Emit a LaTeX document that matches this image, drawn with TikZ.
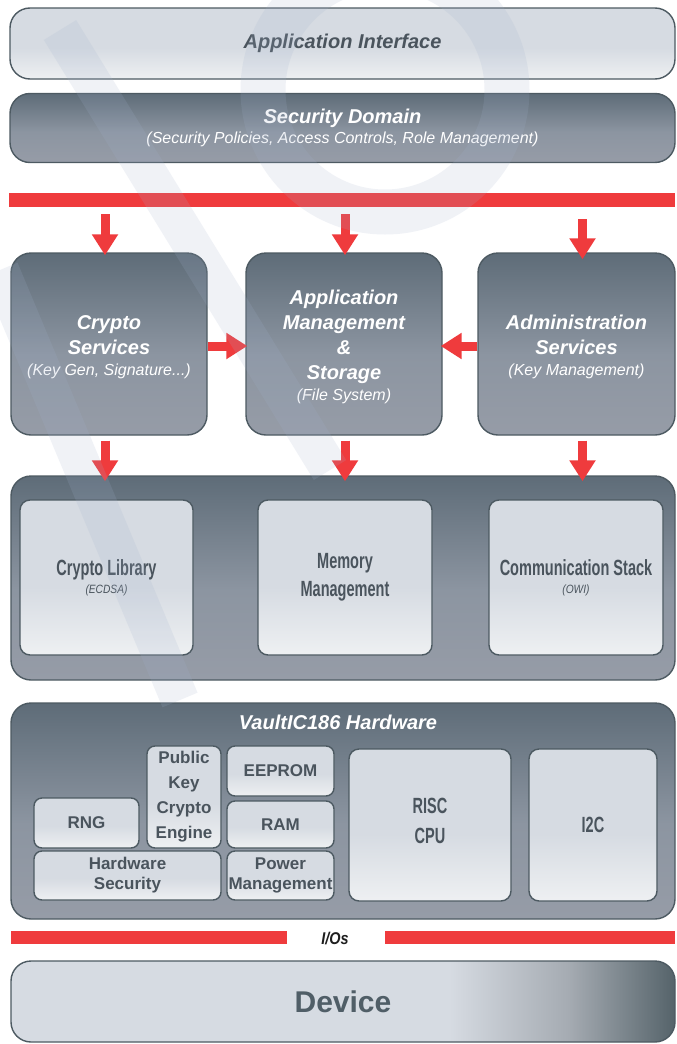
\documentclass[tikz,border=0pt]{standalone}
\usepackage{fontspec}
\setmainfont{Liberation Sans}
\newfontfamily\narrowfont[FakeStretch=0.66]{Liberation Sans}
\newfontfamily\semifont[FakeStretch=0.85]{Liberation Sans}
\usetikzlibrary{arrows.meta,calc}

\definecolor{redbar}{HTML}{EF3B3D}
\definecolor{edge}{HTML}{4D5A62}
\definecolor{dkT}{HTML}{5E6C78}
\definecolor{dkM}{HTML}{8C95A1}
\definecolor{dkB}{HTML}{969CA7}
\definecolor{ltT}{HTML}{D6DBE2}
\definecolor{ltB}{HTML}{EEF0F2}
\definecolor{devM}{HTML}{A5ABB2}
\definecolor{devR}{HTML}{55636A}
\definecolor{txtdark}{HTML}{4A545D}
\definecolor{devtxt}{HTML}{505E67}
\definecolor{wmcol}{RGB}{162,178,205}

\pgfdeclareverticalshading{darkshade}{100bp}{color(0bp)=(dkB); color(25bp)=(dkB); color(47bp)=(dkM); color(75bp)=(dkT); color(100bp)=(dkT)}
\pgfdeclareverticalshading{lightshade}{100bp}{color(0bp)=(ltB); color(25bp)=(ltB); color(47bp)=(ltT); color(75bp)=(ltT); color(100bp)=(ltT)}
\pgfdeclarehorizontalshading{devshade}{100bp}{color(0bp)=(ltT); color(25bp)=(ltT); color(58bp)=(ltT); color(67bp)=(devM); color(75bp)=(devR); color(100bp)=(devR)}

\newcommand\ttlfont{\fontsize{20}{25}\selectfont\bfseries\itshape}
\newcommand\subitfont{\fontsize{16}{20}\selectfont\mdseries\itshape}
\newcommand\topgap{\rule{0pt}{15pt}\\[-19pt]}

\tikzset{
  box/.style={inner sep=0pt, line width=1.4pt, draw=edge, align=center},
  darkbox/.style={box, shading=darkshade, text=white, rounded corners=20pt},
  lightbox/.style={box, shading=lightshade, text=txtdark, rounded corners=10pt},
  hwbox/.style={lightbox, rounded corners=8pt, font=\fontsize{17}{20}\selectfont\bfseries},
  libtext/.style={font=\narrowfont\bfseries\fontsize{22}{28}\selectfont},
  redarrow/.style={draw=redbar, line width=9pt, -{Triangle[width=25pt,length=21pt]}},
  redband/.style={fill=redbar, inner sep=0pt},
  wm/.style={draw=wmcol, draw opacity=0.16},
}

\begin{document}
\begin{tikzpicture}[x=1pt,y=-1pt]
\fill[white] (0,0) rectangle (677,1044);
\useasboundingbox (0,0) rectangle (677,1044);

% top layers
\node[lightbox, rounded corners=20pt, minimum width=665pt, minimum height=71pt, font=\ttlfont] (appif) at (342.5,43.5) {Application Interface};
\node[darkbox, minimum width=665pt, minimum height=69pt, font=\fontsize{16}{20}\selectfont] (secdom) at (342.5,128)
  {{\ttlfont Security Domain}\\{\subitfont (Security Policies, Access Controls, Role Management)}};

\node[redband, minimum width=666pt, minimum height=14pt] (bar) at (342,200) {};

% services
\node[darkbox, minimum width=196pt, minimum height=182pt, font=\ttlfont] (crypto) at (109,344)
  {\topgap Crypto\\Services\\[-4pt]{\subitfont (Key Gen, Signature...)}};
\node[darkbox, minimum width=196pt, minimum height=182pt, font=\ttlfont] (appmgmt) at (344,344)
  {\topgap Application\\Management\\\&\\Storage\\[-4pt]{\subitfont (File System)}};
\node[darkbox, minimum width=197pt, minimum height=182pt, font=\ttlfont] (admin) at (576.5,344)
  {\topgap Administration\\Services\\[-4pt]{\subitfont (Key Management)}};

% library layer
\node[darkbox, minimum width=664pt, minimum height=204pt] (liblayer) at (343,578) {};
\node[lightbox, libtext, minimum width=173pt, minimum height=155pt] (cryptolib) at (106.5,577.5)
  {Crypto Library\\[-10pt]{\semifont\mdseries\itshape\fontsize{12}{14}\selectfont (ECDSA)}};
\node[lightbox, libtext, minimum width=174pt, minimum height=155pt] (memmgmt) at (345,577.5)
  {Memory\\Management};
\node[lightbox, libtext, minimum width=174pt, minimum height=155pt] (commstack) at (576,577.5)
  {Communication Stack\\[-10pt]{\semifont\mdseries\itshape\fontsize{12}{14}\selectfont (OWI)}};

% hardware layer
\node[darkbox, minimum width=664pt, minimum height=216pt] (hwlayer) at (343,811) {};
\node[font=\ttlfont, text=white, inner sep=0pt] (hwtitle) at (338,722) {VaultIC186 Hardware};
\node[hwbox, minimum width=105pt, minimum height=50pt] (rng) at (86.5,823) {RNG};
\node[hwbox, minimum width=74pt, minimum height=102pt, font=\fontsize{17}{25}\selectfont\bfseries] (pkce) at (184,797) {Public\\Key\\Crypto\\Engine};
\node[hwbox, minimum width=107pt, minimum height=50pt] (eeprom) at (280.5,771) {EEPROM};
\node[hwbox, minimum width=107pt, minimum height=47pt] (ram) at (280.5,824.5) {RAM};
\node[hwbox, minimum width=187pt, minimum height=49pt] (hwsec) at (127.5,875.5) {Hardware\\Security};
\node[hwbox, minimum width=107pt, minimum height=49pt] (power) at (280.5,875.5) {Power\\Management};
\node[lightbox, font=\narrowfont\bfseries\fontsize{22}{30}\selectfont, minimum width=162pt, minimum height=152pt] (risc) at (430,825) {RISC\\CPU\\[-22pt]\mbox{}};
\node[lightbox, font=\narrowfont\bfseries\fontsize{22}{30}\selectfont, minimum width=128pt, minimum height=152pt] (i2c) at (593,825) {I2C};

% I/Os
\node[redband, minimum width=276pt, minimum height=13pt] (iobarL) at (149,937.5) {};
\node[redband, minimum width=290pt, minimum height=13pt] (iobarR) at (530,937.5) {};
\node[font=\semifont\bfseries\itshape\fontsize{17}{20}\selectfont, text={rgb,255:red,30;green,30;blue,30}, inner sep=0pt] (ios) at (335,938) {I/Os};

% device
\node[box, rounded corners=20pt, shading=devshade, minimum width=664pt, minimum height=81pt, font=\fontsize{30}{36}\selectfont\bfseries, text=devtxt] (device) at (343,1001.5) {Device};

% arrows
\draw[redarrow] ($(bar.south -| crypto.north)+(-4,7)$) -- ($(crypto.north)+(-4,3)$);
\draw[redarrow] ($(bar.south -| appmgmt.north)+(1,7)$) -- ($(appmgmt.north)+(1,3)$);
\draw[redarrow] ($(bar.south -| admin.north)+(6,12)$) -- ($(admin.north)+(6,7)$);
\draw[redarrow] ($(crypto.east)+(0,2)$) -- ($(appmgmt.west)+(2,2)$);
\draw[redarrow] ($(admin.west)+(0,2)$) -- ($(appmgmt.east)+(-2,2)$);
\draw[redarrow] ($(crypto.south)+(-4,5)$) -- ($(crypto.south |- liblayer.north)+(-4,6)$);
\draw[redarrow] ($(appmgmt.south)+(1,5)$) -- ($(appmgmt.south |- liblayer.north)+(1,6)$);
\draw[redarrow] ($(admin.south)+(6,5)$) -- ($(admin.south |- liblayer.north)+(6,6)$);

% watermark
\draw[wm, line width=45pt] (385,90) circle[radius=122];
\draw[wm, line width=38pt] (60,30) -- (330,470);
\draw[wm, line width=38pt] (0,270) -- (180,700);
\end{tikzpicture}
\end{document}
